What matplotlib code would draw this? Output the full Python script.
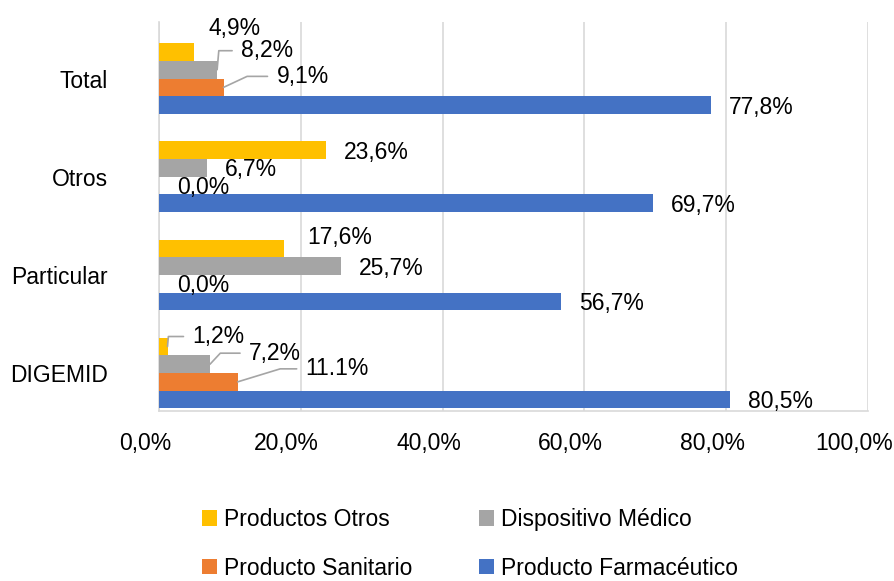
import matplotlib
matplotlib.use("Agg")
import matplotlib.pyplot as plt
import matplotlib.transforms as mtransforms
import numpy as np

# data (fractions)
categorias = ["DIGEMID", "Particular", "Otros", "Total"]
series = ["Productos Otros", "Dispositivo Médico", "Producto Sanitario", "Producto Farmacéutico"]
prod_otros = [0.012, 0.176, 0.236, 0.049]
dispositivo = [0.072, 0.257, 0.067, 0.082]
sanitario = [0.111, 0.0, 0.0, 0.091]
farmaceutico = [0.805, 0.567, 0.697, 0.778]
etiq_otros = ["1,2%", "17,6%", "23,6%", "4,9%"]
etiq_disp = ["7,2%", "25,7%", "6,7%", "8,2%"]
etiq_sani = ["11.1%", "0,0%", "0,0%", "9,1%"]
etiq_farm = ["80,5%", "56,7%", "69,7%", "77,8%"]
xticks = [0, 0.2, 0.4, 0.6, 0.8, 1.0]
xticklabels = ["0,0%", "20,0%", "40,0%", "60,0%", "80,0%", "100,0%"]

colores = ["#FFC000", "#A5A5A5", "#ED7D31", "#4472C4"]
valores = [prod_otros, dispositivo, sanitario, farmaceutico]
etiquetas = [etiq_otros, etiq_disp, etiq_sani, etiq_farm]

# label placement (offset pixels from bar end, leader angle or None)
# per series, per category
coloc = [
    [(25, 12, 85), (23, 13, None), (18, 0, None), (15, 26, None)],
    [(39, 13, 47), (18, 0, None), (18, 0, None), (24, 21, 85)],
    [(68, 15, 17), (18, 0, None), (18, 0, None), (53, 13, 25)],
    [(18, 0, None), (18, 0, None), (18, 0, None), (18, 0, None)],
]

plt.rcParams["font.family"] = ["Liberation Sans", "DejaVu Sans"]
fs = 16.5

fig = plt.figure(figsize=(8.95, 5.81), dpi=100)
ax = fig.add_axes([159 / 895, 1 - 411 / 581, (868 - 159) / 895, (411 - 22) / 581])

y = np.arange(len(categorias))
h = 0.18
desp = [1.5 * h, 0.5 * h, -0.5 * h, -1.5 * h]

for i in range(4):
    ax.barh(y + desp[i], valores[i], height=h, color=colores[i], label=series[i], zorder=3)
    for j in range(len(categorias)):
        dx, dy, ang = coloc[i][j]
        kw = {}
        if ang is not None:
            kw["arrowprops"] = dict(arrowstyle="-", color="#A5A5A5", lw=1.2,
                                    connectionstyle="angle,angleA=0,angleB=%d,rad=0" % ang,
                                    relpos=(0, 0.5), shrinkA=4.5, shrinkB=0)
        ax.annotate(etiquetas[i][j], xy=(valores[i][j], y[j] + desp[i]),
                    xytext=(dx, dy - 2), textcoords="offset pixels",
                    ha="left", va="center", fontsize=fs, color="black", zorder=5, **kw)

ax.set_xlim(0, 1.0)
ax.set_ylim(-0.387, 3.576)
ax.set_xticks(xticks)
ax.set_xticklabels(xticklabels, fontsize=fs)
ax.set_yticks(y)
ax.set_yticklabels(categorias, fontsize=fs)
ax.tick_params(axis="both", length=0)
ax.tick_params(axis="y", pad=37)
ax.tick_params(axis="x", pad=15)
off = mtransforms.ScaledTranslation(-14 / 100, 0, fig.dpi_scale_trans)
for lbl in ax.get_xticklabels():
    lbl.set_transform(lbl.get_transform() + off)

ax.grid(axis="x", color="#D9D9D9", lw=1.2, zorder=0)
for s in ["top", "right"]:
    ax.spines[s].set_visible(False)
for s in ["left", "bottom"]:
    ax.spines[s].set_color("#D9D9D9")
    ax.spines[s].set_linewidth(1.2)

handles, labels = ax.get_legend_handles_labels()
orden = [0, 2, 1, 3]
fig.legend([handles[k] for k in orden], [labels[k] for k in orden],
           ncol=2, loc="upper left", bbox_to_anchor=(202 / 895, 1 - 508 / 581),
           frameon=False, fontsize=fs, handlelength=0.655, handleheight=0.655,
           handletextpad=0.3, columnspacing=2.9, labelspacing=1.12,
           borderpad=0, borderaxespad=0)

fig.savefig("out.png", dpi=100)
